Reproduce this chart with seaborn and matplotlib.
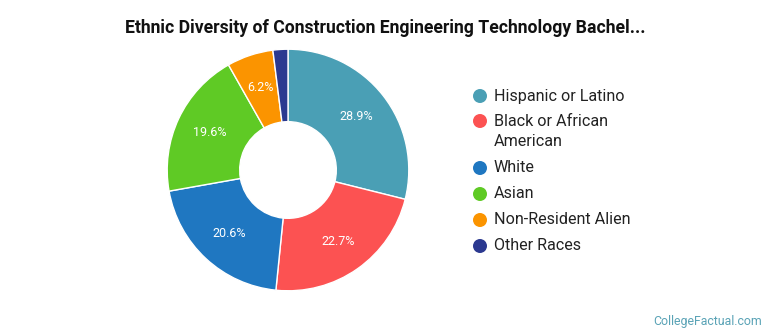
import matplotlib
matplotlib.use("Agg")
import matplotlib.pyplot as plt
import seaborn as sns

# Share of degrees by race / ethnicity
categories = ["Hispanic or Latino", "Black or African\nAmerican", "White",
              "Asian", "Non-Resident Alien", "Other Races"]
shares = [28.9, 22.7, 20.6, 19.6, 6.2, 2.0]
colors = ["#4a9fb5", "#fc5252", "#1f77c1", "#5fca25", "#fb9400", "#2b3990"]
title = "Ethnic Diversity of Construction Engineering Technology Bachel..."

sns.set_theme(style="white")
plt.rcParams["font.family"] = ["Roboto", "DejaVu Sans"]

W, H = 770, 335
fig = plt.figure(figsize=(W / 100, H / 100), dpi=100)
fig.patch.set_facecolor("white")

# donut axes: centre (288,170) px, outer radius 122 px
cx, cy, r = 288, 170, 122
ax = fig.add_axes([(cx - r) / W, (H - cy - r) / H, 2 * r / W, 2 * r / H])
wedges, texts, autotexts = ax.pie(
    shares, colors=colors, startangle=90, counterclock=False,
    radius=1.0, autopct=lambda p: f"{p:.1f}%" if p >= 5 else "",
    pctdistance=0.72,
    wedgeprops=dict(width=0.6, edgecolor="white", linewidth=1.0),
    textprops=dict(color="white", fontsize=9),
)
ax.set_xlim(-1.01, 1.01)
ax.set_ylim(-1.01, 1.01)
ax.set_aspect("equal")
ax.axis("off")

fig.text(0.5, 1 - 28 / H, title, ha="center", va="center",
         fontsize=12.7, fontweight="bold", color="#111111")

# legend drawn as dots + labels
rows_y = [96, 121, 168, 194, 220, 246]
line_step = 21
for lab, col, y in zip(categories, colors, rows_y):
    fig.patches.append(matplotlib.patches.Ellipse(
        (480 / W, 1 - y / H), 14 / W, 14 / H, transform=fig.transFigure,
        facecolor=col, edgecolor="none"))
    for i, part in enumerate(lab.split("\n")):
        fig.text(494 / W, 1 - (y + i * line_step) / H, part, ha="left",
                 va="center", fontsize=11.6, color="#222222")

fig.text(762 / W, 1 - 321 / H, "CollegeFactual.com", ha="right", va="center",
         fontsize=8.9, color="#5aa3b6")

fig.savefig("out.png", dpi=100, facecolor="white")
